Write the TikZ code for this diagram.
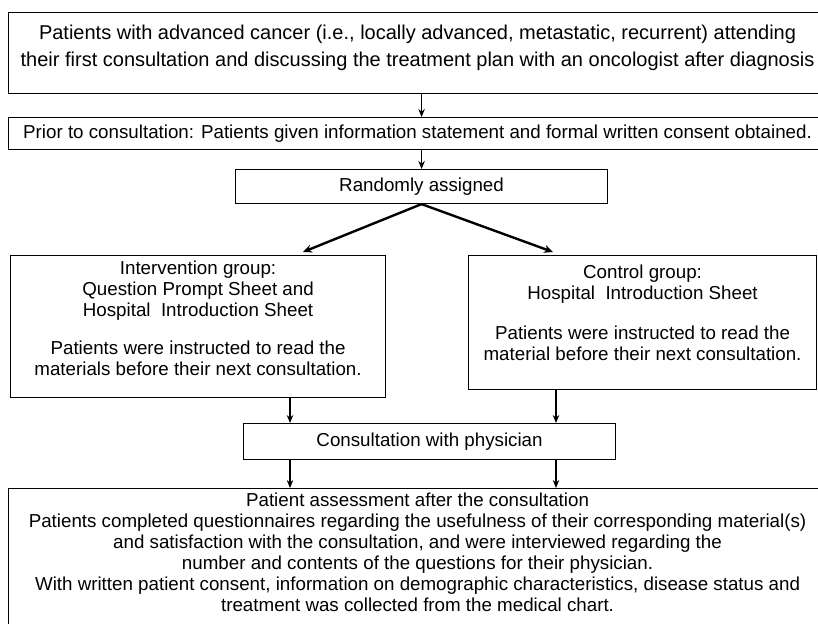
\documentclass[tikz,border=0pt]{standalone}
\usepackage{fontspec}
\setmainfont{Liberation Sans}
\usetikzlibrary{arrows.meta}
\begin{document}
\begin{tikzpicture}[x=1pt, y=-1pt,
  box/.style = {draw, line width=1.1pt, inner sep=0pt, align=center, anchor=north west,
                font=\fontsize{18.75}{21}\selectfont},
  arr/.style = {-{Stealth[length=8pt, width=6.5pt]}, line width=1.6pt},
  fork/.style = {-{Stealth[length=9pt, width=8pt]}, line width=2.4pt}]
\useasboundingbox (0,0) rectangle (818,623);
\clip (0,0) rectangle (818,623);
%
\node[box, minimum width=818, minimum height=81, text depth=14pt, font=\fontsize{20}{27}\selectfont] (patients) at (8,12)
  {Patients with advanced cancer (i.e., locally advanced, metastatic, recurrent) attending\\
   their first consultation and discussing the treatment plan with an oncologist after diagnosis};
\node[box, minimum width=818, minimum height=32] (prior) at (8,117)
  {Prior to consultation: Patients given information statement and formal written consent obtained.};
\node[box, minimum width=372, minimum height=34] (random) at (235,169) {Randomly assigned};
\node[box, minimum width=375, minimum height=142, text depth=17pt] (interv) at (10,255)
  {Intervention group:\\ Question Prompt Sheet and\\ Hospital~ Introduction Sheet\\[17pt]
   Patients were instructed to read the\\ materials before their next consultation.};
\node[box, minimum width=348, minimum height=134, text depth=20pt] (control) at (468,255)
  {Control group:\\ Hospital~ Introduction Sheet\\[19pt]
   Patients were instructed to read the\\ material before their next consultation.};
\node[box, minimum width=372, minimum height=36] (consult) at (243,423) {Consultation with physician};
\node[box, minimum width=818, minimum height=140, text depth=12pt] (assess) at (8,488)
  {Patient assessment after the consultation\\
   Patients completed questionnaires regarding the usefulness of their corresponding material(s)\\
   and satisfaction with the consultation, and were interviewed regarding the\\
   number and contents of the questions for their physician.\\
   With written patient consent, information on demographic characteristics, disease status and\\
   treatment was collected from the medical chart.};
%
\coordinate (lx) at (290,0);
\coordinate (rx) at (556,0);
\coordinate (ltip) at (303,252);
\coordinate (rtip) at (553,252);
%
\draw[arr] (random |- patients.south) -- (random |- prior.north);
\draw[arr] (random |- prior.south) -- (random.north);
\draw[fork] (random.south) -- (ltip);
\draw[fork] (random.south) -- (rtip);
\draw[arr] (interv.south -| lx) -- (consult.north -| lx);
\draw[arr] (control.south -| rx) -- (consult.north -| rx);
\draw[arr] (consult.south -| lx) -- (assess.north -| lx);
\draw[arr] (consult.south -| rx) -- (assess.north -| rx);
\end{tikzpicture}
\end{document}
